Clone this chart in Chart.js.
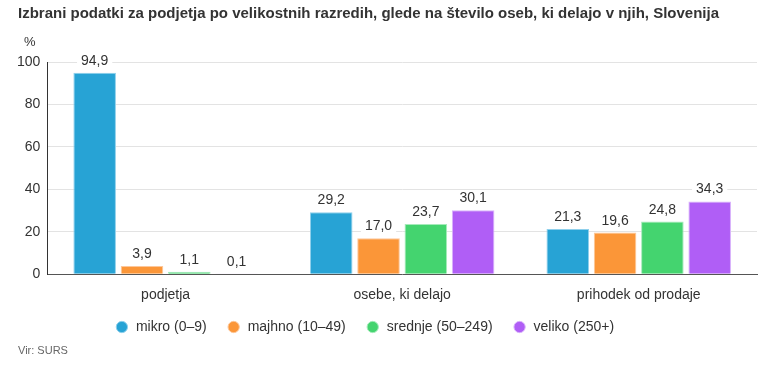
<!DOCTYPE html>
<html>
<head>
<meta charset="utf-8">
<script src="https://cdn.jsdelivr.net/npm/chart.js@4"></script>
<style>
  html, body { margin: 0; padding: 0; background: #fff; }
  #wrap { position: relative; width: 781px; height: 368px; }
</style>
</head>
<body>
<div id="wrap"><canvas id="chart" width="781" height="368"></canvas></div>
<script>
const categories = ['podjetja', 'osebe, ki delajo', 'prihodek od prodaje'];
const mikro = [94.9, 29.2, 21.3];
const majhno = [3.9, 17.0, 19.6];
const srednje = [1.1, 23.7, 24.8];
const veliko = [0.1, 30.1, 34.3];
const yTicks = [0, 20, 40, 60, 80, 100];

const FONT = 'Liberation Sans, Arial, sans-serif';

// value labels above bars, on white background
const barLabels = {
  id: 'barLabels',
  afterDatasetsDraw(chart) {
    const ctx = chart.ctx;
    ctx.save();
    ctx.font = '14px ' + FONT;
    ctx.textAlign = 'center';
    ctx.textBaseline = 'alphabetic';
    chart.data.datasets.forEach((ds, i) => {
      chart.getDatasetMeta(i).data.forEach((bar, j) => {
        const txt = ds.data[j].toFixed(1).replace('.', ',');
        const w = ctx.measureText(txt).width;
        const y = bar.y - 8;
        ctx.fillStyle = '#fff';
        ctx.fillRect(bar.x - w / 2 - 4, y - 12, w + 8, 15);
        ctx.fillStyle = '#333';
        ctx.fillText(txt, bar.x, y);
      });
    });
    ctx.restore();
  }
};

// nudge title right and legend left/up like the original
const shiftBoxes = {
  id: 'shiftBoxes',
  afterLayout(chart) {
    const t = chart.titleBlock;
    t.left += 8; t.right += 8;
    const lg = chart.legend;
    lg.left -= 19; lg.right -= 19;
    lg.top -= 9; lg.bottom -= 9;
  }
};

const extras = {
  id: 'extras',
  afterDraw(chart) {
    const ctx = chart.ctx;
    ctx.save();
    ctx.fillStyle = '#333';
    ctx.font = '13px ' + FONT;
    ctx.textAlign = 'left';
    ctx.textBaseline = 'middle';
    ctx.fillText('%', 24, 42);
    ctx.fillStyle = '#666';
    ctx.font = '11px ' + FONT;
    ctx.fillText('Vir: SURS', 18, 351);
    ctx.restore();
  }
};

function ds(label, data, color, border) {
  return {
    label, data,
    backgroundColor: color,
    borderColor: border,
    borderWidth: 1,
    categoryPercentage: 0.8,
    barPercentage: 0.9
  };
}

new Chart(document.getElementById('chart'), {
  type: 'bar',
  data: {
    labels: categories,
    datasets: [
      ds('mikro (0–9)', mikro, '#27a3d5', '#8fd0ec'),
      ds('majhno (10–49)', majhno, '#fb9638', '#fdc79a'),
      ds('srednje (50–249)', srednje, '#44d46f', '#a5ebba'),
      ds('veliko (250+)', veliko, '#b05ef6', '#d9b3fb')
    ]
  },
  options: {
    responsive: false,
    animation: false,
    layout: { padding: { left: 10, right: 24, top: 0, bottom: 15 } },
    plugins: {
      title: {
        display: true,
        text: 'Izbrani podatki za podjetja po velikostnih razredih, glede na število oseb, ki delajo v njih, Slovenija',
        align: 'start',
        color: '#333',
        font: { family: FONT, size: 15, weight: 'bold' },
        padding: { top: 5, bottom: 39 }
      },
      legend: {
        position: 'bottom',
        labels: {
          usePointStyle: true,
          pointStyle: 'circle',
          boxWidth: 14,
          boxHeight: 8,
          padding: 20,
          color: '#333',
          font: { family: FONT, size: 14 }
        }
      },
      tooltip: { enabled: false }
    },
    scales: {
      x: {
        grid: { display: false },
        border: { color: '#555' },
        ticks: { color: '#333', font: { family: FONT, size: 14 }, padding: 5 }
      },
      y: {
        min: 0,
        max: 100,
        afterBuildTicks: (axis) => { axis.ticks = yTicks.map(v => ({ value: v })); },
        grid: { color: '#e3e3e3', drawTicks: false },
        border: { color: '#333' },
        ticks: { color: '#333', font: { family: FONT, size: 14 }, padding: 7 }
      }
    }
  },
  plugins: [barLabels, shiftBoxes, extras]
});
</script>
</body>
</html>
